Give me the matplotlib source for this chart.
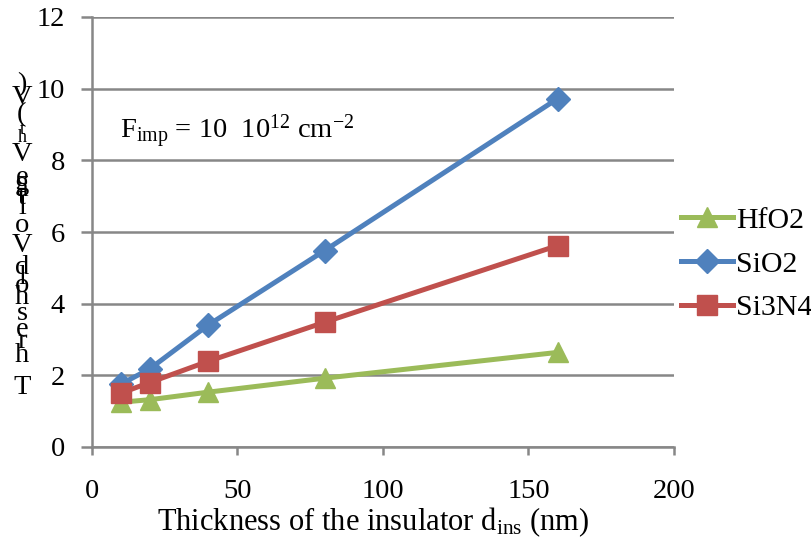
import matplotlib
matplotlib.use("Agg")
import matplotlib.pyplot as plt

# data
thickness = [10, 20, 40, 80, 160]
hfo2 = [1.25, 1.32, 1.53, 1.92, 2.64]
sio2 = [1.75, 2.18, 3.4, 5.48, 9.72]
si3n4 = [1.5, 1.8, 2.39, 3.48, 5.62]

x_ticks = [0, 50, 100, 150, 200]
y_ticks = [0, 2, 4, 6, 8, 10, 12]

plt.rcParams['font.family'] = ['Liberation Serif', 'DejaVu Serif']
plt.rcParams['mathtext.fontset'] = 'custom'
plt.rcParams['mathtext.rm'] = 'Liberation Serif'
plt.rcParams['mathtext.it'] = 'Liberation Serif:italic'

W, H = 811, 540
fig = plt.figure(figsize=(W / 100, H / 100), dpi=100)
ax = fig.add_axes([91.5 / W, (H - 447) / H, 582.5 / W, 430 / H])

grid_col = '#878787'
fs = 20.5

# series, drawn in legend order
ax.plot(thickness, hfo2, color='#9BBB59', lw=3.6, marker='^', ms=14, label='HfO2', zorder=3)
ax.plot(thickness, sio2, color='#4F81BD', lw=3.6, marker='D', ms=12, label='SiO2', zorder=4)
ax.plot(thickness, si3n4, color='#C0504D', lw=3.6, marker='s', ms=14, label='Si3N4', zorder=5)

ax.set_xlim(0, 200)
ax.set_ylim(0, 12)
ax.set_xticks(x_ticks)
ax.set_yticks(y_ticks)
ax.tick_params(labelsize=fs, width=1.8, color=grid_col)
ax.tick_params(axis='y', length=8, pad=11)
ax.tick_params(axis='x', length=6, pad=17)
ax.yaxis.grid(True, color=grid_col, lw=1.8)
ax.set_axisbelow(True)
for s in ['top', 'right']:
    ax.spines[s].set_visible(False)
for s in ['left', 'bottom']:
    ax.spines[s].set_color(grid_col)
    ax.spines[s].set_linewidth(1.8)

ax.set_xlabel(r'Thickness of the insulator d$_{\mathrm{ins}}$ (nm)', fontsize=22)
ax.xaxis.set_label_coords(0.483, -0.136)

# annotation
fig.text(120 / W, 1 - 132 / H, r'F$_{\mathrm{imp}}$ = 10  10$^{12}$ cm$^{-2}$',
         fontsize=fs, va='center', ha='left')

# stacked (upright) y label, one character per line, overlapping as in the original
ylab_chars = [(')', 85, fs), ('V', 97, fs), ('(', 115, fs), ('t', 129, 13), ('h', 137, 13),
              ('V', 155, fs), ('e', 178, fs), ('g', 184, fs), ('a', 190, fs), ('t', 197, fs),
              ('l', 207, fs), ('o', 225, fs), ('V', 245, fs), ('d', 268, fs), ('l', 278, fs),
              ('o', 285, fs), ('h', 297, fs), ('s', 313, fs), ('e', 330, fs), ('r', 342, fs),
              ('h', 356, fs), ('T', 388, fs)]
for ch, yy, size in ylab_chars:
    fig.text(22 / W, 1 - yy / H, ch, fontsize=size, ha='center', va='center')

leg = ax.legend(loc='upper left', bbox_to_anchor=(681 / W, 1 - 207 / H),
                bbox_transform=fig.transFigure, frameon=False, fontsize=21.5,
                handlelength=1.75, handletextpad=0.1, labelspacing=0.56,
                borderaxespad=0, borderpad=0)
leg.set_in_layout(False)

fig.savefig('out.png', dpi=100)
